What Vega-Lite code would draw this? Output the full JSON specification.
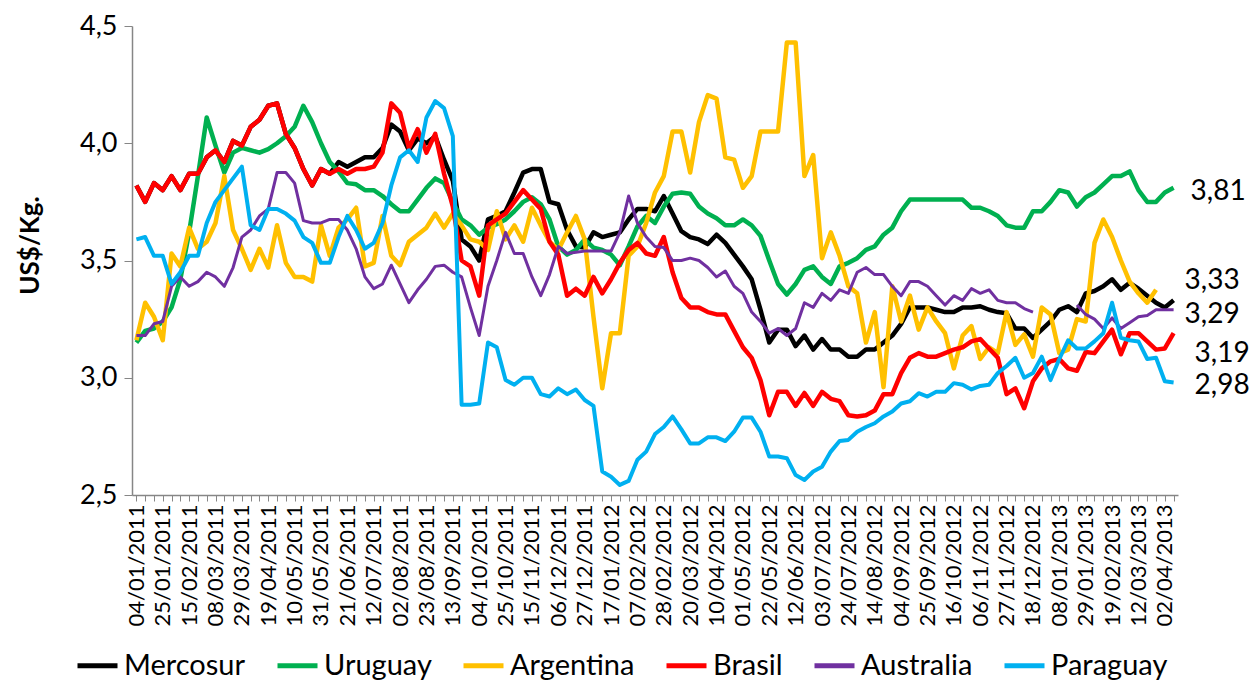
{
"$schema": "https://vega.github.io/schema/vega-lite/v6.json",
"width": 1046,
"height": 469,
"autosize": {"type": "none"},
"padding": {"left": 132, "top": 26, "right": 78, "bottom": 190},
"background": "white",
"config": {
  "locale": {"number": {"decimal": ",", "thousands": ".", "grouping": [3], "currency": ["", ""]}},
  "view": {"stroke": null},
  "font": "Lato",
  "axis": {"labelFont": "Lato", "titleFont": "Lato", "labelColor": "black", "titleColor": "black", "grid": false},
  "text": {"font": "Lato"}
},
"data": {"values": [
{"fecha":"2011-01-04","Mercosur":3.82,"Uruguay":3.15,"Argentina":3.16,"Brasil":3.82,"Australia":3.18,"Paraguay":3.59},
{"fecha":"2011-01-11","Mercosur":3.75,"Uruguay":3.20,"Argentina":3.32,"Brasil":3.75,"Australia":3.18,"Paraguay":3.60},
{"fecha":"2011-01-18","Mercosur":3.83,"Uruguay":3.21,"Argentina":3.26,"Brasil":3.83,"Australia":3.23,"Paraguay":3.52},
{"fecha":"2011-01-25","Mercosur":3.80,"Uruguay":3.24,"Argentina":3.16,"Brasil":3.80,"Australia":3.24,"Paraguay":3.52},
{"fecha":"2011-02-01","Mercosur":3.86,"Uruguay":3.30,"Argentina":3.53,"Brasil":3.86,"Australia":3.39,"Paraguay":3.40},
{"fecha":"2011-02-08","Mercosur":3.80,"Uruguay":3.42,"Argentina":3.475,"Brasil":3.80,"Australia":3.43,"Paraguay":3.45},
{"fecha":"2011-02-15","Mercosur":3.87,"Uruguay":3.62,"Argentina":3.64,"Brasil":3.87,"Australia":3.39,"Paraguay":3.52},
{"fecha":"2011-02-22","Mercosur":3.87,"Uruguay":3.86,"Argentina":3.55,"Brasil":3.87,"Australia":3.41,"Paraguay":3.52},
{"fecha":"2011-03-01","Mercosur":3.94,"Uruguay":4.11,"Argentina":3.58,"Brasil":3.94,"Australia":3.45,"Paraguay":3.66},
{"fecha":"2011-03-08","Mercosur":3.97,"Uruguay":3.99,"Argentina":3.66,"Brasil":3.97,"Australia":3.43,"Paraguay":3.75},
{"fecha":"2011-03-15","Mercosur":3.92,"Uruguay":3.875,"Argentina":3.86,"Brasil":3.92,"Australia":3.39,"Paraguay":3.80},
{"fecha":"2011-03-22","Mercosur":4.01,"Uruguay":3.96,"Argentina":3.63,"Brasil":4.01,"Australia":3.47,"Paraguay":3.85},
{"fecha":"2011-03-29","Mercosur":3.99,"Uruguay":3.98,"Argentina":3.55,"Brasil":3.99,"Australia":3.60,"Paraguay":3.90},
{"fecha":"2011-04-05","Mercosur":4.07,"Uruguay":3.97,"Argentina":3.46,"Brasil":4.07,"Australia":3.63,"Paraguay":3.65},
{"fecha":"2011-04-12","Mercosur":4.10,"Uruguay":3.96,"Argentina":3.55,"Brasil":4.10,"Australia":3.69,"Paraguay":3.63},
{"fecha":"2011-04-19","Mercosur":4.16,"Uruguay":3.975,"Argentina":3.47,"Brasil":4.16,"Australia":3.72,"Paraguay":3.72},
{"fecha":"2011-04-26","Mercosur":4.17,"Uruguay":4.00,"Argentina":3.65,"Brasil":4.17,"Australia":3.875,"Paraguay":3.72},
{"fecha":"2011-05-03","Mercosur":4.04,"Uruguay":4.03,"Argentina":3.49,"Brasil":4.04,"Australia":3.875,"Paraguay":3.70},
{"fecha":"2011-05-10","Mercosur":3.98,"Uruguay":4.07,"Argentina":3.43,"Brasil":3.98,"Australia":3.83,"Paraguay":3.67},
{"fecha":"2011-05-17","Mercosur":3.89,"Uruguay":4.16,"Argentina":3.43,"Brasil":3.89,"Australia":3.67,"Paraguay":3.60},
{"fecha":"2011-05-24","Mercosur":3.82,"Uruguay":4.09,"Argentina":3.41,"Brasil":3.82,"Australia":3.66,"Paraguay":3.575},
{"fecha":"2011-05-31","Mercosur":3.89,"Uruguay":4.00,"Argentina":3.65,"Brasil":3.89,"Australia":3.66,"Paraguay":3.49},
{"fecha":"2011-06-07","Mercosur":3.87,"Uruguay":3.92,"Argentina":3.52,"Brasil":3.87,"Australia":3.675,"Paraguay":3.49},
{"fecha":"2011-06-14","Mercosur":3.92,"Uruguay":3.88,"Argentina":3.64,"Brasil":3.89,"Australia":3.675,"Paraguay":3.60},
{"fecha":"2011-06-21","Mercosur":3.90,"Uruguay":3.83,"Argentina":3.675,"Brasil":3.87,"Australia":3.63,"Paraguay":3.69},
{"fecha":"2011-06-28","Mercosur":3.92,"Uruguay":3.825,"Argentina":3.725,"Brasil":3.89,"Australia":3.55,"Paraguay":3.63},
{"fecha":"2011-07-05","Mercosur":3.94,"Uruguay":3.80,"Argentina":3.475,"Brasil":3.89,"Australia":3.43,"Paraguay":3.55},
{"fecha":"2011-07-12","Mercosur":3.94,"Uruguay":3.80,"Argentina":3.49,"Brasil":3.90,"Australia":3.38,"Paraguay":3.575},
{"fecha":"2011-07-19","Mercosur":3.98,"Uruguay":3.775,"Argentina":3.69,"Brasil":3.96,"Australia":3.40,"Paraguay":3.66},
{"fecha":"2011-07-26","Mercosur":4.08,"Uruguay":3.74,"Argentina":3.52,"Brasil":4.17,"Australia":3.48,"Paraguay":3.82},
{"fecha":"2011-08-02","Mercosur":4.05,"Uruguay":3.71,"Argentina":3.48,"Brasil":4.13,"Australia":3.40,"Paraguay":3.94},
{"fecha":"2011-08-09","Mercosur":3.97,"Uruguay":3.71,"Argentina":3.58,"Brasil":3.98,"Australia":3.32,"Paraguay":3.97},
{"fecha":"2011-08-16","Mercosur":4.02,"Uruguay":3.76,"Argentina":3.61,"Brasil":4.06,"Australia":3.375,"Paraguay":3.92},
{"fecha":"2011-08-23","Mercosur":4.00,"Uruguay":3.81,"Argentina":3.64,"Brasil":3.96,"Australia":3.42,"Paraguay":4.11},
{"fecha":"2011-08-30","Mercosur":4.03,"Uruguay":3.85,"Argentina":3.70,"Brasil":4.04,"Australia":3.475,"Paraguay":4.18},
{"fecha":"2011-09-06","Mercosur":3.93,"Uruguay":3.83,"Argentina":3.64,"Brasil":3.87,"Australia":3.48,"Paraguay":4.15},
{"fecha":"2011-09-13","Mercosur":3.84,"Uruguay":3.75,"Argentina":3.70,"Brasil":3.73,"Australia":3.45,"Paraguay":4.03},
{"fecha":"2011-09-20","Mercosur":3.59,"Uruguay":3.675,"Argentina":3.65,"Brasil":3.50,"Australia":3.43,"Paraguay":2.885},
{"fecha":"2011-09-27","Mercosur":3.56,"Uruguay":3.65,"Argentina":3.59,"Brasil":3.475,"Australia":3.30,"Paraguay":2.885},
{"fecha":"2011-10-04","Mercosur":3.50,"Uruguay":3.61,"Argentina":3.58,"Brasil":3.35,"Australia":3.18,"Paraguay":2.89},
{"fecha":"2011-10-11","Mercosur":3.675,"Uruguay":3.64,"Argentina":3.545,"Brasil":3.65,"Australia":3.39,"Paraguay":3.15},
{"fecha":"2011-10-18","Mercosur":3.69,"Uruguay":3.655,"Argentina":3.71,"Brasil":3.675,"Australia":3.50,"Paraguay":3.13},
{"fecha":"2011-10-25","Mercosur":3.71,"Uruguay":3.675,"Argentina":3.59,"Brasil":3.70,"Australia":3.62,"Paraguay":2.99},
{"fecha":"2011-11-01","Mercosur":3.79,"Uruguay":3.71,"Argentina":3.65,"Brasil":3.75,"Australia":3.53,"Paraguay":2.97},
{"fecha":"2011-11-08","Mercosur":3.875,"Uruguay":3.75,"Argentina":3.58,"Brasil":3.80,"Australia":3.53,"Paraguay":3.00},
{"fecha":"2011-11-15","Mercosur":3.89,"Uruguay":3.77,"Argentina":3.725,"Brasil":3.76,"Australia":3.43,"Paraguay":3.00},
{"fecha":"2011-11-22","Mercosur":3.89,"Uruguay":3.74,"Argentina":3.65,"Brasil":3.72,"Australia":3.35,"Paraguay":2.93},
{"fecha":"2011-11-29","Mercosur":3.75,"Uruguay":3.675,"Argentina":3.58,"Brasil":3.58,"Australia":3.44,"Paraguay":2.92},
{"fecha":"2011-12-06","Mercosur":3.74,"Uruguay":3.56,"Argentina":3.545,"Brasil":3.525,"Australia":3.56,"Paraguay":2.955},
{"fecha":"2011-12-13","Mercosur":3.63,"Uruguay":3.525,"Argentina":3.62,"Brasil":3.35,"Australia":3.53,"Paraguay":2.93},
{"fecha":"2011-12-20","Mercosur":3.56,"Uruguay":3.545,"Argentina":3.69,"Brasil":3.38,"Australia":3.535,"Paraguay":2.95},
{"fecha":"2011-12-27","Mercosur":3.555,"Uruguay":3.59,"Argentina":3.59,"Brasil":3.35,"Australia":3.54,"Paraguay":2.905},
{"fecha":"2012-01-03","Mercosur":3.62,"Uruguay":3.555,"Argentina":3.26,"Brasil":3.43,"Australia":3.54,"Paraguay":2.88},
{"fecha":"2012-01-10","Mercosur":3.60,"Uruguay":3.545,"Argentina":2.955,"Brasil":3.36,"Australia":3.54,"Paraguay":2.60},
{"fecha":"2012-01-17","Mercosur":3.61,"Uruguay":3.525,"Argentina":3.19,"Brasil":3.42,"Australia":3.54,"Paraguay":2.578},
{"fecha":"2012-01-24","Mercosur":3.62,"Uruguay":3.48,"Argentina":3.19,"Brasil":3.49,"Australia":3.62,"Paraguay":2.543},
{"fecha":"2012-01-31","Mercosur":3.675,"Uruguay":3.56,"Argentina":3.52,"Brasil":3.545,"Australia":3.775,"Paraguay":2.56},
{"fecha":"2012-02-07","Mercosur":3.72,"Uruguay":3.645,"Argentina":3.56,"Brasil":3.575,"Australia":3.66,"Paraguay":2.65},
{"fecha":"2012-02-14","Mercosur":3.72,"Uruguay":3.69,"Argentina":3.66,"Brasil":3.53,"Australia":3.60,"Paraguay":2.685},
{"fecha":"2012-02-21","Mercosur":3.71,"Uruguay":3.66,"Argentina":3.79,"Brasil":3.52,"Australia":3.56,"Paraguay":2.76},
{"fecha":"2012-02-28","Mercosur":3.775,"Uruguay":3.73,"Argentina":3.86,"Brasil":3.60,"Australia":3.555,"Paraguay":2.79},
{"fecha":"2012-03-06","Mercosur":3.70,"Uruguay":3.785,"Argentina":4.05,"Brasil":3.45,"Australia":3.50,"Paraguay":2.835},
{"fecha":"2012-03-13","Mercosur":3.625,"Uruguay":3.79,"Argentina":4.05,"Brasil":3.34,"Australia":3.50,"Paraguay":2.78},
{"fecha":"2012-03-20","Mercosur":3.60,"Uruguay":3.785,"Argentina":3.875,"Brasil":3.30,"Australia":3.51,"Paraguay":2.72},
{"fecha":"2012-03-27","Mercosur":3.59,"Uruguay":3.73,"Argentina":4.09,"Brasil":3.30,"Australia":3.50,"Paraguay":2.72},
{"fecha":"2012-04-03","Mercosur":3.57,"Uruguay":3.70,"Argentina":4.205,"Brasil":3.28,"Australia":3.47,"Paraguay":2.746},
{"fecha":"2012-04-10","Mercosur":3.61,"Uruguay":3.68,"Argentina":4.19,"Brasil":3.27,"Australia":3.43,"Paraguay":2.746},
{"fecha":"2012-04-17","Mercosur":3.575,"Uruguay":3.65,"Argentina":3.94,"Brasil":3.27,"Australia":3.455,"Paraguay":2.73},
{"fecha":"2012-04-24","Mercosur":3.525,"Uruguay":3.65,"Argentina":3.93,"Brasil":3.20,"Australia":3.39,"Paraguay":2.77},
{"fecha":"2012-05-01","Mercosur":3.475,"Uruguay":3.675,"Argentina":3.81,"Brasil":3.13,"Australia":3.36,"Paraguay":2.83},
{"fecha":"2012-05-08","Mercosur":3.42,"Uruguay":3.65,"Argentina":3.86,"Brasil":3.085,"Australia":3.28,"Paraguay":2.83},
{"fecha":"2012-05-15","Mercosur":3.29,"Uruguay":3.605,"Argentina":4.05,"Brasil":2.99,"Australia":3.24,"Paraguay":2.77},
{"fecha":"2012-05-22","Mercosur":3.15,"Uruguay":3.50,"Argentina":4.05,"Brasil":2.84,"Australia":3.19,"Paraguay":2.664},
{"fecha":"2012-05-29","Mercosur":3.205,"Uruguay":3.40,"Argentina":4.05,"Brasil":2.94,"Australia":3.21,"Paraguay":2.664},
{"fecha":"2012-06-05","Mercosur":3.205,"Uruguay":3.355,"Argentina":4.43,"Brasil":2.94,"Australia":3.18,"Paraguay":2.657},
{"fecha":"2012-06-12","Mercosur":3.135,"Uruguay":3.40,"Argentina":4.43,"Brasil":2.88,"Australia":3.21,"Paraguay":2.585},
{"fecha":"2012-06-19","Mercosur":3.18,"Uruguay":3.46,"Argentina":3.86,"Brasil":2.935,"Australia":3.32,"Paraguay":2.564},
{"fecha":"2012-06-26","Mercosur":3.12,"Uruguay":3.475,"Argentina":3.95,"Brasil":2.88,"Australia":3.30,"Paraguay":2.60},
{"fecha":"2012-07-03","Mercosur":3.165,"Uruguay":3.43,"Argentina":3.51,"Brasil":2.94,"Australia":3.36,"Paraguay":2.62},
{"fecha":"2012-07-10","Mercosur":3.12,"Uruguay":3.40,"Argentina":3.62,"Brasil":2.91,"Australia":3.33,"Paraguay":2.685},
{"fecha":"2012-07-17","Mercosur":3.12,"Uruguay":3.475,"Argentina":3.52,"Brasil":2.90,"Australia":3.375,"Paraguay":2.73},
{"fecha":"2012-07-24","Mercosur":3.09,"Uruguay":3.49,"Argentina":3.39,"Brasil":2.84,"Australia":3.36,"Paraguay":2.735},
{"fecha":"2012-07-31","Mercosur":3.09,"Uruguay":3.51,"Argentina":3.36,"Brasil":2.835,"Australia":3.45,"Paraguay":2.77},
{"fecha":"2012-08-07","Mercosur":3.12,"Uruguay":3.545,"Argentina":3.15,"Brasil":2.84,"Australia":3.47,"Paraguay":2.79},
{"fecha":"2012-08-14","Mercosur":3.12,"Uruguay":3.56,"Argentina":3.28,"Brasil":2.86,"Australia":3.44,"Paraguay":2.806},
{"fecha":"2012-08-21","Mercosur":3.15,"Uruguay":3.61,"Argentina":2.96,"Brasil":2.93,"Australia":3.44,"Paraguay":2.835},
{"fecha":"2012-08-28","Mercosur":3.18,"Uruguay":3.64,"Argentina":3.39,"Brasil":2.93,"Australia":3.39,"Paraguay":2.856},
{"fecha":"2012-09-04","Mercosur":3.23,"Uruguay":3.71,"Argentina":3.24,"Brasil":3.02,"Australia":3.35,"Paraguay":2.89},
{"fecha":"2012-09-11","Mercosur":3.30,"Uruguay":3.76,"Argentina":3.35,"Brasil":3.085,"Australia":3.41,"Paraguay":2.90},
{"fecha":"2012-09-18","Mercosur":3.30,"Uruguay":3.76,"Argentina":3.205,"Brasil":3.105,"Australia":3.41,"Paraguay":2.934},
{"fecha":"2012-09-25","Mercosur":3.30,"Uruguay":3.76,"Argentina":3.30,"Brasil":3.09,"Australia":3.39,"Paraguay":2.92},
{"fecha":"2012-10-02","Mercosur":3.29,"Uruguay":3.76,"Argentina":3.24,"Brasil":3.09,"Australia":3.35,"Paraguay":2.94},
{"fecha":"2012-10-09","Mercosur":3.28,"Uruguay":3.76,"Argentina":3.19,"Brasil":3.105,"Australia":3.31,"Paraguay":2.94},
{"fecha":"2012-10-16","Mercosur":3.28,"Uruguay":3.76,"Argentina":3.04,"Brasil":3.12,"Australia":3.35,"Paraguay":2.977},
{"fecha":"2012-10-23","Mercosur":3.30,"Uruguay":3.76,"Argentina":3.18,"Brasil":3.13,"Australia":3.33,"Paraguay":2.97},
{"fecha":"2012-10-30","Mercosur":3.30,"Uruguay":3.725,"Argentina":3.22,"Brasil":3.155,"Australia":3.38,"Paraguay":2.95},
{"fecha":"2012-11-06","Mercosur":3.305,"Uruguay":3.725,"Argentina":3.08,"Brasil":3.165,"Australia":3.36,"Paraguay":2.965},
{"fecha":"2012-11-13","Mercosur":3.29,"Uruguay":3.71,"Argentina":3.13,"Brasil":3.125,"Australia":3.375,"Paraguay":2.97},
{"fecha":"2012-11-20","Mercosur":3.28,"Uruguay":3.69,"Argentina":3.105,"Brasil":3.085,"Australia":3.33,"Paraguay":3.02},
{"fecha":"2012-11-27","Mercosur":3.275,"Uruguay":3.65,"Argentina":3.28,"Brasil":2.93,"Australia":3.32,"Paraguay":3.05},
{"fecha":"2012-12-04","Mercosur":3.21,"Uruguay":3.64,"Argentina":3.14,"Brasil":2.955,"Australia":3.32,"Paraguay":3.085},
{"fecha":"2012-12-11","Mercosur":3.21,"Uruguay":3.64,"Argentina":3.185,"Brasil":2.87,"Australia":3.295,"Paraguay":3.00},
{"fecha":"2012-12-18","Mercosur":3.17,"Uruguay":3.71,"Argentina":3.09,"Brasil":2.985,"Australia":3.28,"Paraguay":3.02},
{"fecha":"2012-12-25","Mercosur":3.205,"Uruguay":3.71,"Argentina":3.30,"Brasil":3.04,"Australia":null,"Paraguay":3.09},
{"fecha":"2013-01-01","Mercosur":3.24,"Uruguay":3.75,"Argentina":3.27,"Brasil":3.07,"Australia":null,"Paraguay":2.99},
{"fecha":"2013-01-08","Mercosur":3.29,"Uruguay":3.80,"Argentina":3.105,"Brasil":3.08,"Australia":null,"Paraguay":3.08},
{"fecha":"2013-01-15","Mercosur":3.305,"Uruguay":3.79,"Argentina":3.12,"Brasil":3.04,"Australia":null,"Paraguay":3.16},
{"fecha":"2013-01-22","Mercosur":3.28,"Uruguay":3.73,"Argentina":3.25,"Brasil":3.03,"Australia":3.31,"Paraguay":3.125},
{"fecha":"2013-01-29","Mercosur":3.36,"Uruguay":3.77,"Argentina":3.24,"Brasil":3.11,"Australia":3.27,"Paraguay":3.125},
{"fecha":"2013-02-05","Mercosur":3.37,"Uruguay":3.79,"Argentina":3.575,"Brasil":3.105,"Australia":3.25,"Paraguay":3.155},
{"fecha":"2013-02-12","Mercosur":3.39,"Uruguay":3.825,"Argentina":3.675,"Brasil":3.155,"Australia":3.21,"Paraguay":3.19},
{"fecha":"2013-02-19","Mercosur":3.42,"Uruguay":3.86,"Argentina":3.60,"Brasil":3.205,"Australia":3.255,"Paraguay":3.32},
{"fecha":"2013-02-26","Mercosur":3.375,"Uruguay":3.86,"Argentina":3.50,"Brasil":3.10,"Australia":3.21,"Paraguay":3.17},
{"fecha":"2013-03-05","Mercosur":3.405,"Uruguay":3.88,"Argentina":3.41,"Brasil":3.19,"Australia":3.235,"Paraguay":3.16},
{"fecha":"2013-03-12","Mercosur":3.38,"Uruguay":3.80,"Argentina":3.36,"Brasil":3.19,"Australia":3.26,"Paraguay":3.155},
{"fecha":"2013-03-19","Mercosur":3.35,"Uruguay":3.75,"Argentina":3.32,"Brasil":3.155,"Australia":3.265,"Paraguay":3.08},
{"fecha":"2013-03-26","Mercosur":3.32,"Uruguay":3.75,"Argentina":3.375,"Brasil":3.12,"Australia":3.29,"Paraguay":3.085},
{"fecha":"2013-04-02","Mercosur":3.30,"Uruguay":3.79,"Argentina":null,"Brasil":3.125,"Australia":3.29,"Paraguay":2.985},
{"fecha":"2013-04-09","Mercosur":3.33,"Uruguay":3.81,"Argentina":null,"Brasil":3.19,"Australia":3.29,"Paraguay":2.98}
]},
"transform": [{"fold": ["Mercosur","Uruguay","Argentina","Brasil","Australia","Paraguay"], "as": ["serie","valor"]}],
"encoding": {
  "x": {"field": "fecha", "type": "ordinal", "title": null,
        "scale": {"type": "point", "padding": 0.5},
        "axis": {"labelAngle": 270, "labelAlign": "right", "labelBaseline": "middle", "labelFontSize": 22, "labelPadding": 3,
                 "tickSize": 6, "tickColor": "#868686", "domainColor": "#868686", "domainWidth": 1.5, "tickWidth": 1,
                 "labelOverlap": false,
                 "labelExpr": "round(datum.index*118) % 3 == 0 ? substring(datum.label,8,10)+'/'+substring(datum.label,5,7)+'/'+substring(datum.label,0,4) : ''"}},
  "y": {"field": "valor", "type": "quantitative",
        "scale": {"domain": [2.5, 4.5], "zero": false, "nice": false},
        "axis": {"title": "US$/Kg.", "titleFontSize": 26, "titleFontWeight": "bold", "titleAngle": 270,
                 "titleX": -102, "titleY": 219, "titleAlign": "center", "titleBaseline": "middle",
                 "values": [2.5, 3, 3.5, 4, 4.5], "format": ".1f", "labelFontSize": 27, "labelPadding": 7,
                 "tickSize": 8, "tickColor": "#868686", "domainColor": "#868686", "domainWidth": 1.5}},
  "color": {"field": "serie", "type": "nominal",
            "scale": {"domain": ["Mercosur","Uruguay","Argentina","Brasil","Australia","Paraguay"],
                      "range": ["#000000","#00B050","#FFC000","#FF0000","#7030A0","#00B0F0"]},
            "legend": {"title": null, "orient": "none", "legendX": -57, "legendY": 617, "direction": "horizontal",
                       "symbolType": "stroke", "symbolSize": 1600, "symbolStrokeWidth": 5, "labelFontSize": 29,
                       "labelFont": "Lato", "labelColor": "black", "columnPadding": 21, "labelOffset": 4, "padding": 0,
                       "labelLimit": 400}}
},
"layer": [
  {"transform": [{"filter": "datum.serie === 'Mercosur'"}], "mark": {"type": "line", "strokeWidth": 4.5, "strokeJoin": "round", "invalid": "break-paths-show-domains"}},
  {"transform": [{"filter": "datum.serie === 'Uruguay'"}], "mark": {"type": "line", "strokeWidth": 4.5, "strokeJoin": "round", "invalid": "break-paths-show-domains"}},
  {"transform": [{"filter": "datum.serie === 'Argentina'"}], "mark": {"type": "line", "strokeWidth": 4.5, "strokeJoin": "round", "invalid": "break-paths-show-domains"}},
  {"transform": [{"filter": "datum.serie === 'Brasil'"}], "mark": {"type": "line", "strokeWidth": 4.5, "strokeJoin": "round", "invalid": "break-paths-show-domains"}},
  {"transform": [{"filter": "datum.serie === 'Australia'"}], "mark": {"type": "line", "strokeWidth": 3, "strokeJoin": "round", "invalid": "break-paths-show-domains"}},
  {"transform": [{"filter": "datum.serie === 'Paraguay'"}], "mark": {"type": "line", "strokeWidth": 4, "strokeJoin": "round", "invalid": "break-paths-show-domains"}},
  {"transform": [{"filter": "datum.fecha === '2013-04-09' && datum.serie === 'Uruguay'"}],
   "mark": {"type": "text", "align": "left", "baseline": "middle", "fontSize": 28, "dx": 17, "dy": 4},
   "encoding": {"color": {"value": "black"}, "text": {"field": "valor", "type": "quantitative", "format": ".2f"}}},
  {"transform": [{"filter": "datum.fecha === '2013-04-09' && datum.serie === 'Mercosur'"}],
   "mark": {"type": "text", "align": "left", "baseline": "middle", "fontSize": 28, "dx": 11, "dy": -19},
   "encoding": {"color": {"value": "black"}, "text": {"field": "valor", "type": "quantitative", "format": ".2f"}}},
  {"transform": [{"filter": "datum.fecha === '2013-04-09' && datum.serie === 'Australia'"}],
   "mark": {"type": "text", "align": "left", "baseline": "middle", "fontSize": 28, "dx": 11, "dy": 5},
   "encoding": {"color": {"value": "black"}, "text": {"field": "valor", "type": "quantitative", "format": ".2f"}}},
  {"transform": [{"filter": "datum.fecha === '2013-04-09' && datum.serie === 'Brasil'"}],
   "mark": {"type": "text", "align": "left", "baseline": "middle", "fontSize": 28, "dx": 21, "dy": 21},
   "encoding": {"color": {"value": "black"}, "text": {"field": "valor", "type": "quantitative", "format": ".2f"}}},
  {"transform": [{"filter": "datum.fecha === '2013-04-09' && datum.serie === 'Paraguay'"}],
   "mark": {"type": "text", "align": "left", "baseline": "middle", "fontSize": 28, "dx": 21, "dy": 4},
   "encoding": {"color": {"value": "black"}, "text": {"field": "valor", "type": "quantitative", "format": ".2f"}}}
]
}
